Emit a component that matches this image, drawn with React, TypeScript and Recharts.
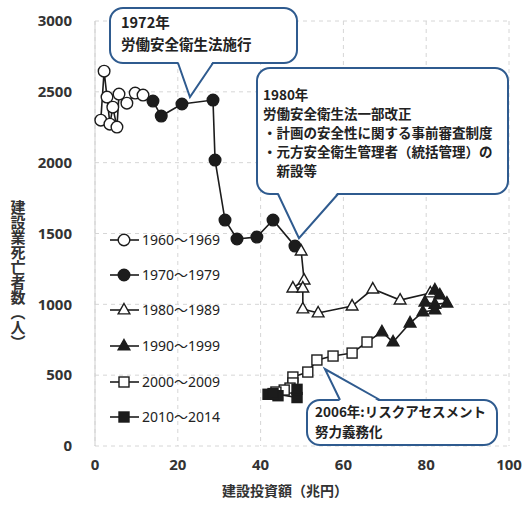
import React from 'react';
import { ScatterChart, Scatter, XAxis, YAxis, CartesianGrid } from 'recharts';

// construction investment (trillion yen) and deaths, per decade
const inv1960s = [1.4, 2.2, 2.9, 3.6, 4.3, 5.3, 5.8, 7.7, 9.7, 11.6];
const deaths1960s = [2300, 2646, 2463, 2272, 2392, 2251, 2484, 2420, 2491, 2477];

const inv1970s = [14.0, 16.0, 21.0, 28.5, 29.0, 31.4, 34.3, 39.1, 43.0, 48.3];
const deaths1970s = [2435, 2329, 2414, 2442, 2018, 1595, 1461, 1475, 1595, 1411];

const inv1980s = [49.8, 50.5, 47.8, 50.2, 50.2, 53.9, 62.1, 67.1, 73.7, 81.0];
const deaths1980s = [1376, 1171, 1115, 1115, 967, 939, 988, 1108, 1030, 1080];

const inv1990s = [82.1, 83.3, 85.0, 82.1, 79.7, 82.1, 79.2, 76.1, 72.0, 69.3];
const deaths1990s = [1101, 1066, 1009, 1000, 1016, 960, 946, 868, 734, 805];

const inv2000s = [65.7, 62.1, 57.5, 53.6, 51.4, 47.8, 47.8, 47.1, 45.7, 43.7];
const deaths2000s = [734, 656, 635, 607, 522, 487, 445, 409, 395, 381];

const inv2010s = [41.8, 44.2, 43.0, 48.8, 48.8];
const deaths2010s = [365, 355, 370, 342, 400];

const xTicks = [0, 20, 40, 60, 80, 100];
const yTicks = [0, 500, 1000, 1500, 2000, 2500, 3000];

const toPoints = (xs: number[], ys: number[]) => xs.map((x, i) => ({ x, y: ys[i] }));

const series = [
  { name: '1960～1969', data: toPoints(inv1960s, deaths1960s), marker: 'circle', filled: false },
  { name: '1970～1979', data: toPoints(inv1970s, deaths1970s), marker: 'circle', filled: true },
  { name: '1980～1989', data: toPoints(inv1980s, deaths1980s), marker: 'triangle', filled: false },
  { name: '1990～1999', data: toPoints(inv1990s, deaths1990s), marker: 'triangle', filled: true },
  { name: '2000～2009', data: toPoints(inv2000s, deaths2000s), marker: 'square', filled: false },
  { name: '2010～2014', data: toPoints(inv2010s, deaths2010s), marker: 'square', filled: true },
];

const allPoints = series.flatMap((s) => s.data);

const INK = '#1c1c1c';
const BLUE = '#2f5b8f';
const JP = "'Noto Sans CJK JP', sans-serif";
const LATIN = "'Noto Sans', 'Noto Sans CJK JP', sans-serif";

function Marker({ cx, cy, marker, filled }: { cx: number; cy: number; marker: string; filled: boolean }) {
  const fill = filled ? INK : '#fff';
  if (marker === 'circle') {
    return <circle cx={cx} cy={cy} r={5.8} fill={fill} stroke={INK} strokeWidth={1.4} />;
  }
  if (marker === 'triangle') {
    const r = 6.5;
    return (
      <polygon
        points={`${cx},${cy - r} ${cx + r * 0.9},${cy + r * 0.6} ${cx - r * 0.9},${cy + r * 0.6}`}
        fill={fill}
        stroke={INK}
        strokeWidth={1.4}
      />
    );
  }
  return <rect x={cx - 5} y={cy - 5} width={10} height={10} fill={fill} stroke={INK} strokeWidth={1.4} />;
}

const legendRows = [240, 275, 310, 346, 382, 417];

// plot area in pixels, used for the callout pointers only
const PLOT = { left: 95, right: 509, top: 21, bottom: 446 };
const px = (x: number) => PLOT.left + (x / 100) * (PLOT.right - PLOT.left);
const py = (y: number) => PLOT.bottom - (y / 3000) * (PLOT.bottom - PLOT.top);

interface CalloutProps {
  x: number;
  y: number;
  w: number;
  h: number;
  base: [number, number];
  tip: [number, number];
  top?: boolean;
  lines: string[];
  textX: number;
  firstBaseline: number;
  lineGap: number;
  fontSize: number;
}

function Callout({ x, y, w, h, base, tip, top, lines, textX, firstBaseline, lineGap, fontSize }: CalloutProps) {
  const edge = top ? y : y + h;
  const inner = top ? edge + 2 : edge - 2;
  return (
    <g>
      <rect x={x} y={y} width={w} height={h} rx={13} fill="#fff" stroke={BLUE} strokeWidth={2} />
      <polygon points={`${base[0]},${inner} ${base[1]},${inner} ${tip[0]},${tip[1]}`} fill="#fff" />
      <polyline
        points={`${base[0]},${edge} ${tip[0]},${tip[1]} ${base[1]},${edge}`}
        fill="none"
        stroke={BLUE}
        strokeWidth={2}
      />
      {lines.map((t, i) => (
        <text
          key={i}
          x={textX}
          y={firstBaseline + i * lineGap}
          fontSize={fontSize}
          fontWeight="bold"
          fontFamily={JP}
          fill="#222"
        >
          {t}
        </text>
      ))}
    </g>
  );
}

export default function App() {
  const tickStyle = { fontSize: 15, fontWeight: 'bold', fill: '#333', fontFamily: LATIN };
  return (
    <div style={{ position: 'absolute', left: 0, top: 0, width: 530, height: 508, background: '#fff' }}>
      <ScatterChart width={530} height={508} margin={{ top: 21, right: 21, bottom: 32, left: 35 }}>
        <CartesianGrid stroke="#d6d6d6" strokeDasharray="4 4" />
        <XAxis
          type="number"
          dataKey="x"
          domain={[0, 100]}
          ticks={xTicks}
          axisLine={false}
          tickLine={false}
          tickMargin={7}
          height={30}
          tick={tickStyle}
        />
        <YAxis
          type="number"
          dataKey="y"
          domain={[0, 3000]}
          ticks={yTicks}
          axisLine={{ stroke: '#cfcfcf' }}
          tickLine={false}
          tickMargin={17}
          width={60}
          tick={tickStyle}
        />
        <Scatter
          data={allPoints}
          line={{ stroke: INK, strokeWidth: 1.6 }}
          shape={() => <g />}
          legendType="none"
          isAnimationActive={false}
        />
        {series.map((s) => (
          <Scatter
            key={s.name}
            name={s.name}
            data={s.data}
            isAnimationActive={false}
            shape={(p: any) => <Marker cx={p.cx} cy={p.cy} marker={s.marker} filled={s.filled} />}
          />
        ))}
      </ScatterChart>

      <svg
        width={530}
        height={508}
        style={{ position: 'absolute', left: 0, top: 0, pointerEvents: 'none' }}
      >
        {series.map((s, i) => {
          const cy = legendRows[i];
          return (
            <g key={s.name}>
              <line x1={110} x2={139} y1={cy} y2={cy} stroke={INK} strokeWidth={1.6} />
              <Marker cx={124} cy={cy} marker={s.marker} filled={s.filled} />
              <text x={142} y={cy + 5} fontSize={14} fontFamily={LATIN} fill="#222">
                {s.name}
              </text>
            </g>
          );
        })}
        <Callout
          x={110}
          y={8}
          w={187}
          h={55}
          base={[178, 213]}
          tip={[px(inv1970s[2]) + 8, py(deaths1970s[2]) - 7]}
          lines={['1972年', '労働安全衛生法施行']}
          textX={121}
          firstBaseline={28}
          lineGap={22}
          fontSize={14.5}
        />
        <Callout
          x={257}
          y={68}
          w={251}
          h={126}
          base={[278, 338]}
          tip={[px(inv1970s[9]) + 4, py(deaths1970s[9]) - 8]}
          lines={[
            '1980年',
            '労働安全衛生法一部改正',
            '・計画の安全性に関する事前審査制度',
            '・元方安全衛生管理者（統括管理）の',
            '\u3000新設等',
          ]}
          textX={263}
          firstBaseline={100}
          lineGap={19}
          fontSize={13.5}
        />
        <Callout
          x={307}
          y={400}
          w={190}
          h={45}
          top
          base={[340, 380]}
          tip={[px(inv2000s[3]) + 8, py(deaths2000s[3]) + 9]}
          lines={['2006年:リスクアセスメント', '努力義務化']}
          textX={315}
          firstBaseline={417}
          lineGap={19.5}
          fontSize={13.5}
        />
        <text
          x={18}
          y={275}
          textAnchor="middle"
          fontSize={15}
          fontWeight="bold"
          fontFamily={JP}
          fill="#333"
          style={{ writingMode: 'vertical-rl' }}
        >
          建設業死亡者数（人）
        </text>
        <text x={285} y={496} textAnchor="middle" fontSize={14} fontWeight="bold" fontFamily={JP} fill="#333">
          建設投資額（兆円）
        </text>
      </svg>
    </div>
  );
}
